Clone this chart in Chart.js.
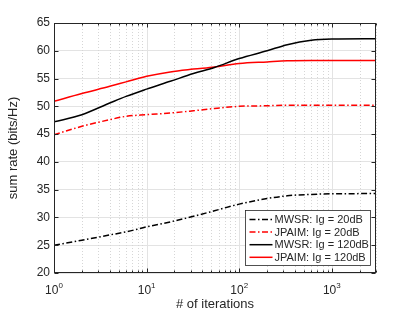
<!DOCTYPE html>
<html><head><meta charset="utf-8">
<script src="https://cdn.jsdelivr.net/npm/chart.js@4"></script>
<style>html,body{margin:0;padding:0;background:#fff}</style>
</head><body>
<canvas id="c" width="415" height="312"></canvas>
<script>
// ---- data ----
const iterations = [1, 2, 4, 6, 10, 18, 32, 54, 100, 200, 330, 600, 1000, 3000];
const mwsr20   = [25.0, 25.9, 26.85, 27.4, 28.3, 29.2, 30.2, 31.2, 32.4, 33.4, 33.9, 34.15, 34.25, 34.3];
const jpaim20  = [44.9, 46.4, 47.6, 48.2, 48.5, 48.8, 49.2, 49.6, 50.0, 50.1, 50.2, 50.2, 50.2, 50.2];
const mwsr120  = [47.2, 48.5, 50.6, 51.8, 53.1, 54.5, 55.9, 57.0, 58.6, 60.0, 61.1, 61.9, 62.1, 62.15];
const jpaim120 = [50.9, 52.3, 53.6, 54.4, 55.4, 56.2, 56.7, 57.1, 57.7, 58.0, 58.2, 58.25, 58.25, 58.25];
const seriesNames = ['MWSR: Ig = 20dB', 'JPAIM: Ig = 20dB', 'MWSR: Ig = 120dB', 'JPAIM: Ig = 120dB'];
const xDecades = [1, 10, 100, 1000];
const xDecadeExp = ['0', '1', '2', '3'];
const xMin = 1, xMax = 3000;
const yMin = 20, yMax = 65, yStep = 5;
const xTitle = '# of iterations';
const yTitle = 'sum rate (bits/Hz)';

const FONT = "'Liberation Sans', Arial, Helvetica, sans-serif";
const AX = '#262626';
const DASHDOT = [6, 2.5, 1.5, 2.5];

function pts(arr){ return iterations.map((v,i)=>({x:v, y:arr[i]})); }
function ds(label, arr, color, dash){
  return {label, data:pts(arr), borderColor:color, backgroundColor:color, borderWidth:1.5,
    borderDash:dash, pointRadius:0, cubicInterpolationMode:'monotone', fill:false};
}

const datasets = [
  ds(seriesNames[0], mwsr20, '#000000', DASHDOT),
  ds(seriesNames[1], jpaim20, '#ff0000', DASHDOT),
  ds(seriesNames[2], mwsr120, '#000000', []),
  ds(seriesNames[3], jpaim120, '#ff0000', []),
];

const deco = {
  id:'deco',
  beforeDatasetsDraw(chart){
    const {ctx, chartArea:a, scales:{x}} = chart;
    ctx.save();
    ctx.lineWidth = 1;
    for (const d of xDecades){
      for (let k=1;k<=9;k++){
        const v = d*k; if (v > xMax) break;
        const px = Math.round(x.getPixelForValue(v)) + 0.5;
        ctx.beginPath();
        if (k===1){ ctx.setLineDash([]); ctx.strokeStyle='#e3e3e3'; }
        else { ctx.setLineDash([1,2]); ctx.strokeStyle='#d6d6d6'; }
        ctx.moveTo(px, a.top); ctx.lineTo(px, a.bottom); ctx.stroke();
      }
    }
    ctx.restore();
  },
  afterDraw(chart){
    const {ctx, chartArea:a, scales:{x, y}} = chart;
    ctx.save();
    // frame
    ctx.strokeStyle = AX; ctx.lineWidth = 1; ctx.setLineDash([]);
    const L = Math.round(a.left)+0.5, R = Math.round(a.right)-0.5, T = Math.round(a.top)+0.5, B = Math.round(a.bottom)-0.5;
    ctx.strokeRect(L, T, R-L, B-T);
    // x ticks (inward)
    ctx.beginPath();
    for (const d of xDecades){
      for (let k=1;k<=9;k++){
        const v = d*k; if (v > xMax) break;
        const px = Math.round(x.getPixelForValue(v)) + 0.5;
        const len = k===1 ? 4 : 2;
        ctx.moveTo(px, B); ctx.lineTo(px, B-len);
        ctx.moveTo(px, T); ctx.lineTo(px, T+len);
      }
    }
    // y ticks
    for (let v=yMin; v<=yMax; v+=yStep){
      const py = Math.round(y.getPixelForValue(v)) + 0.5;
      ctx.moveTo(L, py); ctx.lineTo(L+4, py);
      ctx.moveTo(R, py); ctx.lineTo(R-4, py);
    }
    ctx.stroke();
    // x tick labels with superscripts
    ctx.fillStyle = AX;
    ctx.textBaseline = 'alphabetic';
    xDecades.forEach((d,i)=>{
      const px = x.getPixelForValue(d);
      ctx.font = '12px ' + FONT;
      const w1 = ctx.measureText('10').width;
      ctx.font = '8px ' + FONT;
      const w2 = ctx.measureText(xDecadeExp[i]).width;
      const start = px - (w1+w2)/2;
      ctx.font = '12px ' + FONT;
      ctx.textAlign = 'left';
      ctx.fillText('10', start, a.bottom + 21);
      ctx.font = '8px ' + FONT;
      ctx.fillText(xDecadeExp[i], start + w1, a.bottom + 15);
    });
    // axis titles
    ctx.font = '13px ' + FONT;
    ctx.textAlign = 'center'; ctx.textBaseline = 'middle';
    ctx.fillText(xTitle, (a.left+a.right)/2, a.bottom + 31);
    ctx.save();
    ctx.translate(13, (a.top+a.bottom)/2);
    ctx.rotate(-Math.PI/2);
    ctx.fillText(yTitle, 0, 0);
    ctx.restore();
    // legend
    const lw = 125, lh = 55;
    const lx = Math.round(a.right - 6 - lw) + 0.5, ly = Math.round(a.bottom - 8 - lh) + 0.5;
    ctx.fillStyle = '#ffffff';
    ctx.fillRect(lx, ly, lw, lh);
    ctx.strokeStyle = AX; ctx.lineWidth = 0.8;
    ctx.strokeRect(lx, ly, lw, lh);
    ctx.font = '11px ' + FONT;
    ctx.textAlign = 'left'; ctx.textBaseline = 'middle';
    chart.data.datasets.forEach((dset, i)=>{
      const ry = ly + 9 + i*12.6;
      ctx.beginPath();
      ctx.strokeStyle = dset.borderColor; ctx.lineWidth = 1.5;
      ctx.setLineDash(dset.borderDash || []);
      ctx.moveTo(lx + 4, ry); ctx.lineTo(lx + 27, ry); ctx.stroke();
      ctx.setLineDash([]);
      ctx.fillStyle = AX;
      ctx.fillText(dset.label, lx + 29, ry + 0.5);
    });
    ctx.restore();
  }
};

new Chart(document.getElementById('c'), {
  type:'line',
  data:{datasets},
  options:{
    responsive:false, devicePixelRatio:1, animation:false,
    layout:{padding:{top:23, right:39, left:0, bottom:0}},
    plugins:{legend:{display:false}, tooltip:{enabled:false}},
    scales:{
      x:{type:'logarithmic', min:xMin, max:xMax,
        grid:{display:false}, border:{display:false},
        ticks:{display:false},
        afterFit(s){ s.height = 39; }},
      y:{type:'linear', min:yMin, max:yMax,
        grid:{color:'#e3e3e3', drawTicks:false, lineWidth:1}, border:{display:false},
        ticks:{stepSize:yStep, padding:4, color:AX, font:{family:FONT, size:12}},
        afterFit(s){ s.width = 54; }}
    }
  },
  plugins:[deco]
});
</script>
</body></html>
